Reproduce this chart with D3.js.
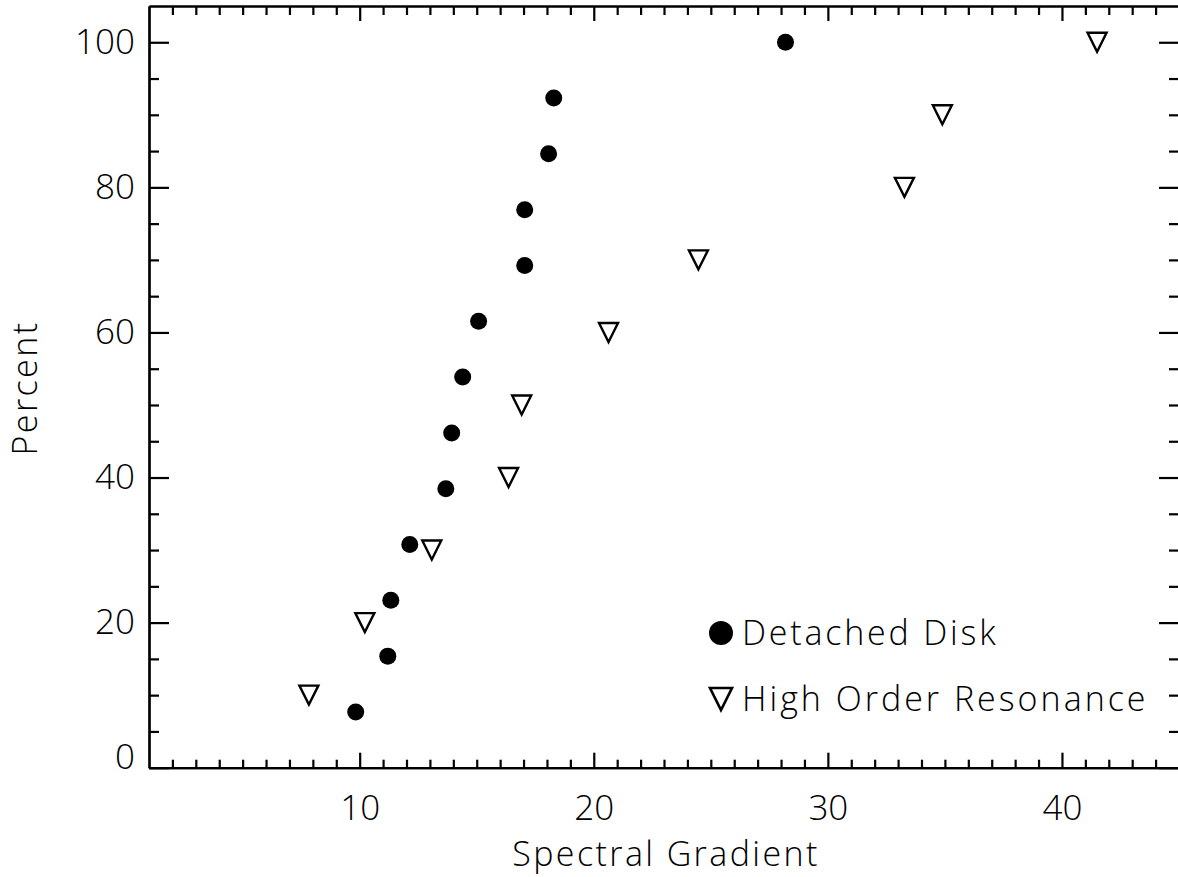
<!DOCTYPE html>
<html>
<head>
<meta charset="utf-8">
<script src="https://cdn.jsdelivr.net/npm/d3@7"></script>
<style>
  body { margin: 0; background: #fff; }
  svg text { font-family: "Open Sans", "DejaVu Sans", sans-serif; font-weight: 300; fill: #000; }
</style>
</head>
<body>
<svg id="graph" width="1178" height="877"></svg>
<script>
// Detached Disk (filled circles)
const diskGradient = [9.83, 11.2, 11.33, 12.14, 13.68, 13.93, 14.4, 15.08, 17.05, 17.05, 18.07, 18.29, 28.19];
const diskPercent = [7.69, 15.38, 23.08, 30.77, 38.46, 46.15, 53.85, 61.54, 69.23, 76.92, 84.62, 92.31, 100];
// High Order Resonance (open triangles)
const horGradient = [7.83, 10.22, 13.08, 16.36, 16.92, 20.63, 24.47, 33.27, 34.89, 41.5];
const horPercent = [10, 20, 30, 40, 50, 60, 70, 80, 90, 100];

const xTicks = [10, 20, 30, 40];
const yTicks = [0, 20, 40, 60, 80, 100];

const plotLeft = 149, plotRight = 1179, plotTop = 6, plotBottom = 767.7;

const x = d3.scaleLinear().domain([1, 45]).range([plotLeft, plotRight]);
const y = d3.scaleLinear().domain([0, 105]).range([plotBottom, plotTop]);

const svg = d3.select("#graph");

const xMinor = d3.range(2, 45).filter((v) => v % 10 !== 0);
const yMinor = d3.range(5, 105, 5).filter((v) => v % 20 !== 0);

function style(g) {
  g.selectAll("path, line").attr("stroke", "#000").attr("stroke-width", 2.2);
  g.selectAll("text").attr("font-size", 35).attr("fill", "#000")
    .attr("font-family", null);
}

// bottom axis
svg.append("g").attr("transform", `translate(0,${plotBottom})`)
  .call(d3.axisBottom(x).tickValues(xMinor).tickSize(-8).tickSizeOuter(0).tickFormat(""))
  .call(style);
svg.append("g").attr("transform", `translate(0,${plotBottom})`)
  .call(d3.axisBottom(x).tickValues(xTicks).tickSize(-15).tickSizeOuter(0).tickPadding(27))
  .call(style);

// top axis
svg.append("g").attr("transform", `translate(0,${plotTop})`)
  .call(d3.axisTop(x).tickValues(xMinor).tickSize(-9).tickSizeOuter(0).tickFormat(""))
  .call(style);
svg.append("g").attr("transform", `translate(0,${plotTop})`)
  .call(d3.axisTop(x).tickValues(xTicks).tickSize(-15).tickSizeOuter(0).tickFormat(""))
  .call(style);

// left axis
svg.append("g").attr("transform", `translate(${plotLeft},0)`)
  .call(d3.axisLeft(y).tickValues(yMinor).tickSize(-10).tickSizeOuter(0).tickFormat(""))
  .call(style);
svg.append("g").attr("transform", `translate(${plotLeft},0)`)
  .call(d3.axisLeft(y).tickValues(yTicks).tickSize(-20).tickSizeOuter(0).tickPadding(14))
  .call(style)
  .call((g) => g.selectAll(".tick").filter((d) => d === 0).select("text").attr("y", -10));

// right axis
svg.append("g").attr("transform", `translate(${plotRight},0)`)
  .call(d3.axisRight(y).tickValues(yMinor).tickSize(-10).tickSizeOuter(0).tickFormat(""))
  .call(style);
svg.append("g").attr("transform", `translate(${plotRight},0)`)
  .call(d3.axisRight(y).tickValues(yTicks).tickSize(-20).tickSizeOuter(0).tickFormat(""))
  .call(style);

// axis titles
svg.append("text")
  .attr("x", 666).attr("y", 866)
  .attr("text-anchor", "middle")
  .attr("font-size", 34)
  .attr("letter-spacing", 2.4)
  .text("Spectral Gradient");

svg.append("text")
  .attr("transform", "translate(37,388) rotate(-90)")
  .attr("text-anchor", "middle")
  .attr("font-size", 34)
  .attr("letter-spacing", 2.4)
  .text("Percent");

// data
const disk = diskGradient.map((g, i) => ({ g, p: diskPercent[i] }));
const hor = horGradient.map((g, i) => ({ g, p: horPercent[i] }));

const tri = (s) => `M${-s / 2},${-s / 2}L${s / 2},${-s / 2}L0,${s / 2}Z`;

svg.append("g").selectAll("circle")
  .data(disk)
  .join("circle")
  .attr("cx", (d) => x(d.g))
  .attr("cy", (d) => y(d.p))
  .attr("r", 8.5)
  .attr("fill", "#000");

svg.append("g").selectAll("path")
  .data(hor)
  .join("path")
  .attr("transform", (d) => `translate(${x(d.g)},${y(d.p)})`)
  .attr("d", tri(19))
  .attr("fill", "none")
  .attr("stroke", "#000")
  .attr("stroke-width", 2.4)
  .attr("stroke-linejoin", "miter");

// legend
const legend = svg.append("g");
legend.append("circle").attr("cx", 721).attr("cy", 633).attr("r", 12).attr("fill", "#000");
legend.append("text").attr("x", 742).attr("y", 645).attr("font-size", 34).attr("letter-spacing", 2.8)
  .text("Detached Disk");
legend.append("path").attr("transform", "translate(721,699)").attr("d", tri(22))
  .attr("fill", "none").attr("stroke", "#000").attr("stroke-width", 2.6);
legend.append("text").attr("x", 742).attr("y", 711).attr("font-size", 34).attr("letter-spacing", 3)
  .text("High Order Resonance");
</script>
</body>
</html>
